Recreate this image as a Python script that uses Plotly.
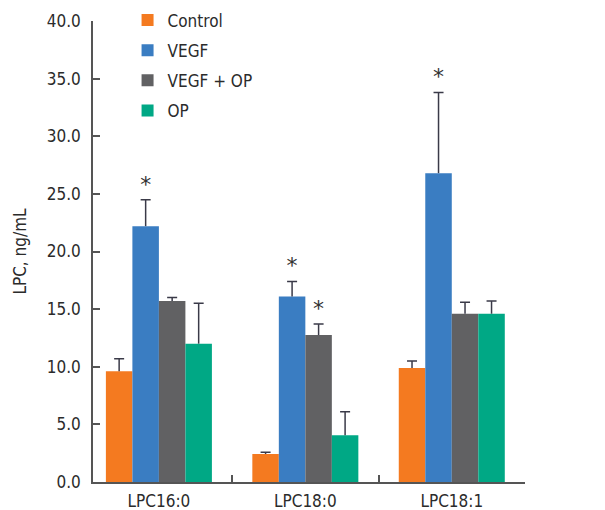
import plotly.graph_objects as go

categories = ["LPC16:0", "LPC18:0", "LPC18:1"]
series_names = ["Control", "VEGF", "VEGF + OP", "OP"]
control = [9.6, 2.43, 9.9]
control_err = [1.1, 0.15, 0.6]
vegf = [22.2, 16.1, 26.8]
vegf_err = [2.3, 1.3, 7.0]
vegf_op = [15.7, 12.75, 14.6]
vegf_op_err = [0.3, 0.95, 1.0]
op = [12.0, 4.05, 14.6]
op_err = [3.5, 2.05, 1.1]
control_sig = ["", "", ""]
vegf_sig = ["*", "*", "*"]
vegf_op_sig = ["", "*", ""]
op_sig = ["", "", ""]
y_ticks = [0, 5, 10, 15, 20, 25, 30, 35, 40]
y_ticklabels = ["0.0", "5.0", "10.0", "15.0", "20.0", "25.0", "30.0", "35.0", "40.0"]

colors = ["#F47A20", "#3A7DC2", "#616163", "#00A885"]
FONT = "DejaVu Sans Condensed, Liberation Sans Narrow, sans-serif"
FS = 17
TXT = "#2b2b2b"
ERR = "#3a3a48"

values = [control, vegf, vegf_op, op]
errors = [control_err, vegf_err, vegf_op_err, op_err]
sigs = [control_sig, vegf_sig, vegf_op_sig, op_sig]

fig = go.Figure()
for i, (name, v, e, c) in enumerate(zip(series_names, values, errors, colors)):
    fig.add_trace(go.Bar(
        x=categories, y=v, name=name, marker=dict(color=c, line=dict(width=0)),
        offsetgroup=str(i), legendgroup=str(i),
        error_y=dict(type="data", symmetric=False, array=e, arrayminus=[0] * len(e),
                     width=0, thickness=1.5, color=ERR),
    ))
for i, (v, e, s) in enumerate(zip(values, errors, sigs)):
    tops = [a + b for a, b in zip(v, e)]
    fig.add_trace(go.Bar(
        x=categories, y=tops, offsetgroup=str(i), showlegend=False, hoverinfo="skip",
        marker=dict(color="rgba(0,0,0,0)", line=dict(width=0)),
        error_y=dict(type="data", array=[0] * len(e), width=5, thickness=1.5, color=ERR),
        text=s, textposition="outside", cliponaxis=False, constraintext="none",
        textfont=dict(family="DejaVu Sans", size=22, color="#333"),
    ))

axis_common = dict(showline=True, linecolor="#555", linewidth=1.5, ticks="inside",
                   ticklen=7, tickwidth=1.5, tickcolor="#555", showgrid=False,
                   zeroline=False, automargin=False,
                   tickfont=dict(family=FONT, size=FS, color=TXT))

fig.update_layout(
    width=605, height=510,
    margin=dict(l=93, r=80, t=21, b=28, autoexpand=False),
    paper_bgcolor="white", plot_bgcolor="white",
    barmode="group", bargap=0.276, bargroupgap=0,
    font=dict(family=FONT, size=FS, color=TXT),
    showlegend=True,
    legend=dict(x=0.08, y=1.04, xanchor="left", yanchor="top", bgcolor="rgba(0,0,0,0)",
                font=dict(family=FONT, size=FS, color=TXT), tracegroupgap=5,
                itemwidth=30),
    xaxis=dict(type="category", range=[-0.45, 2.5], tickson="boundaries",
               ticklabelstandoff=3, **axis_common),
    yaxis=dict(range=[0, 40], tickvals=y_ticks, ticktext=y_ticklabels,
               ticklabelstandoff=7,
               title=dict(text="LPC, ng/mL", standoff=16,
                          font=dict(family=FONT, size=FS, color=TXT)),
               **axis_common),
)

fig.write_html("out.html")
